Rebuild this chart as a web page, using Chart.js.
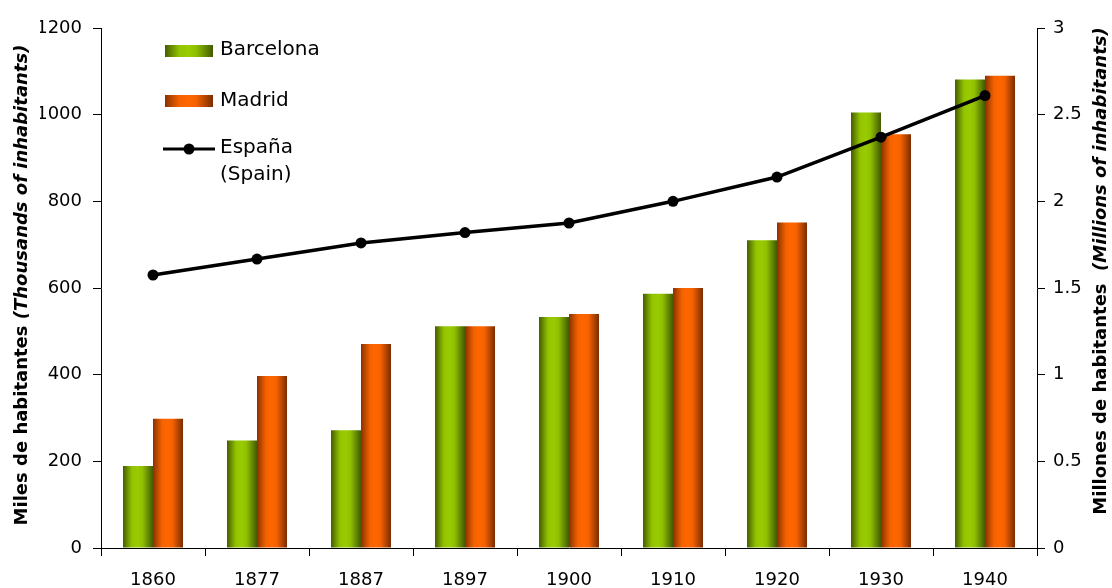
<!DOCTYPE html>
<html>
<head>
<meta charset="utf-8">
<script src="https://cdn.jsdelivr.net/npm/chart.js@4/dist/chart.umd.min.js"></script>
<style>
html,body{margin:0;padding:0;background:#fff;}
#wrap{position:relative;width:1112px;height:588px;}
</style>
</head>
<body>
<div id="wrap"><canvas id="c" width="1112" height="588"></canvas></div>
<script>
const years = ['1860','1877','1887','1897','1900','1910','1920','1930','1940'];
const barcelona = [189, 248, 272, 512, 533, 587, 710, 1005, 1081];
const madrid = [298, 397, 471, 512, 540, 600, 751, 955, 1090];
const spain = [1.575, 1.667, 1.76, 1.82, 1.875, 2.0, 2.14, 2.37, 2.61];
const leftTicks = [0, 200, 400, 600, 800, 1000, 1200];
const rightTicks = [0, 0.5, 1, 1.5, 2, 2.5, 3];
const seriesNames = ['Barcelona', 'Madrid', 'España', '(Spain)'];
const leftTitle = ['Miles de habitantes ', '(Thousands of inhabitants)'];
const rightTitle = ['Millones de habitantes  ', '(Millions of inhabitants)'];

const FONT = "'DejaVu Sans', sans-serif";
const CAT_PCT = 0.577;
const greenStops = [[0,'#455c00'],[0.3,'#93c400'],[0.5,'#99cc00'],[0.65,'#8fbf00'],[1,'#435a00']];
const orangeStops = [[0,'#8a3100'],[0.3,'#f56200'],[0.5,'#ff6600'],[0.65,'#f56200'],[1,'#7a2c00']];

function grad(stops){
  return (c) => {
    const ch = c.chart;
    const xs = ch.scales && ch.scales.x;
    if (!xs || c.dataIndex === undefined || !isFinite(xs.left)) return stops[2][1];
    const n = years.length;
    const catW = (xs.right - xs.left) / n;
    const groupW = catW * CAT_PCT;
    const barW = groupW / 2;
    const center = xs.getPixelForValue(c.dataIndex);
    const left = center - groupW / 2 + c.datasetIndex * barW;
    const g = ch.ctx.createLinearGradient(left, 0, left + barW, 0);
    stops.forEach(s => g.addColorStop(s[0], s[1]));
    return g;
  };
}

const extras = {
  id: 'extras',
  afterDraw(chart){
    const ctx = chart.ctx;
    function vtitle(parts, cx, cy){
      ctx.save();
      ctx.translate(cx, cy);
      ctx.rotate(-Math.PI/2);
      ctx.fillStyle = '#000';
      ctx.textBaseline = 'middle';
      const f1 = "bold 18px " + FONT, f2 = "italic bold 18px " + FONT;
      ctx.font = f1; const w1 = ctx.measureText(parts[0]).width;
      ctx.font = f2; const w2 = ctx.measureText(parts[1]).width;
      let x = -(w1 + w2) / 2;
      ctx.font = f1; ctx.textAlign = 'left'; ctx.fillText(parts[0], x, 0);
      ctx.font = f2; ctx.fillText(parts[1], x + w1, 0);
      ctx.restore();
    }
    vtitle(leftTitle, 22, 285);
    vtitle(rightTitle, 1101, 271);
    ctx.save();
    ctx.font = "20px " + FONT;
    ctx.textBaseline = 'middle';
    ctx.textAlign = 'left';
    function sw(y, stops){
      const g = ctx.createLinearGradient(165, 0, 213, 0);
      stops.forEach(s => g.addColorStop(s[0], s[1]));
      ctx.fillStyle = g;
      ctx.fillRect(165, y, 48, 12);
    }
    sw(45, greenStops);
    sw(95, orangeStops);
    ctx.strokeStyle = '#000'; ctx.lineWidth = 3;
    ctx.beginPath(); ctx.moveTo(163, 149); ctx.lineTo(215, 149); ctx.stroke();
    ctx.beginPath(); ctx.arc(189, 149, 5.5, 0, Math.PI*2); ctx.fillStyle = '#000'; ctx.fill();
    ctx.fillStyle = '#000';
    ctx.fillText(seriesNames[0], 220, 50);
    ctx.fillText(seriesNames[1], 220, 101);
    ctx.fillText(seriesNames[2], 220, 148);
    ctx.fillText(seriesNames[3], 220, 175);
    ctx.restore();
  }
};

new Chart(document.getElementById('c'), {
  data: {
    labels: years,
    datasets: [
      { type: 'bar', label: seriesNames[0], data: barcelona, yAxisID: 'y',
        backgroundColor: grad(greenStops), borderWidth: 0,
        categoryPercentage: CAT_PCT, barPercentage: 1, order: 2 },
      { type: 'bar', label: seriesNames[1], data: madrid, yAxisID: 'y',
        backgroundColor: grad(orangeStops), borderWidth: 0,
        categoryPercentage: CAT_PCT, barPercentage: 1, order: 2 },
      { type: 'line', label: 'España (Spain)', data: spain, yAxisID: 'y1',
        borderColor: '#000', backgroundColor: '#000', borderWidth: 3.5,
        pointRadius: 5.5, pointBackgroundColor: '#000', pointBorderWidth: 0,
        tension: 0, order: 0 }
    ]
  },
  options: {
    responsive: false,
    animation: false,
    layout: { padding: { left: 40, right: 30, top: 28, bottom: 0 } },
    plugins: { legend: { display: false }, tooltip: { enabled: false } },
    scales: {
      x: {
        offset: true,
        grid: { display: true, drawOnChartArea: false, drawTicks: true, tickLength: 8, color: '#000', offset: true },
        border: { display: true, color: '#000', width: 1 },
        ticks: { color: '#000', font: { family: FONT, size: 18 }, padding: 14, maxRotation: 0 },
        afterFit(s){ s.height = 40; }
      },
      y: {
        position: 'left', min: 0, max: 1200,
        afterBuildTicks(s){ s.ticks = leftTicks.map(v => ({ value: v })); },
        grid: { drawOnChartArea: false, tickLength: 8, color: '#000' },
        border: { display: true, color: '#000', width: 1 },
        ticks: { color: '#000', font: { family: FONT, size: 18 }, padding: 11, callback: v => String(v) },
        afterFit(s){ s.width = 61; }
      },
      y1: {
        position: 'right', min: 0, max: 3,
        afterBuildTicks(s){ s.ticks = rightTicks.map(v => ({ value: v })); },
        grid: { drawOnChartArea: false, tickLength: 8, color: '#000' },
        border: { display: true, color: '#000', width: 1 },
        ticks: { color: '#000', font: { family: FONT, size: 18 }, padding: 8, callback: v => String(v) },
        afterFit(s){ s.width = 45; }
      }
    }
  },
  plugins: [extras]
});
</script>
</body>
</html>
